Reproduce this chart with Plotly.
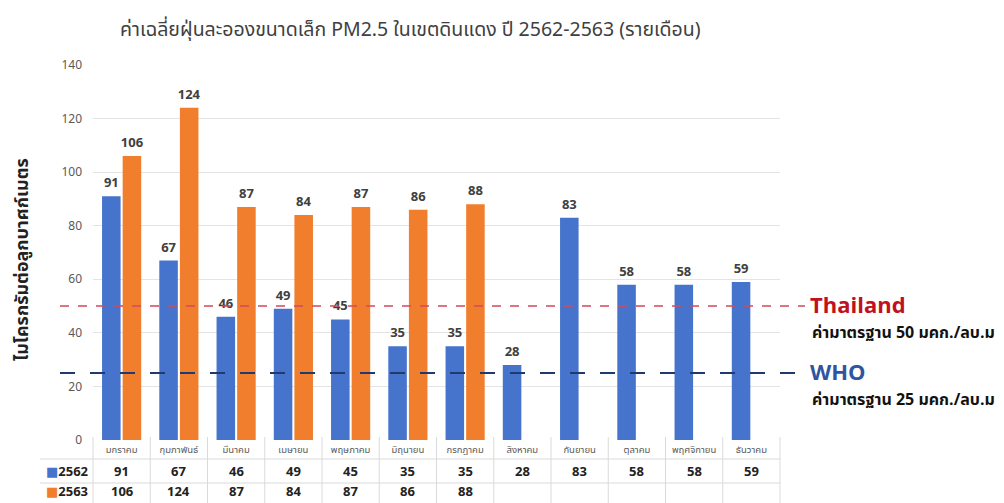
import plotly.graph_objects as go

# Monthly PM2.5 averages (µg/m³), Din Daeng district
months = ["มกราคม", "กุมภาพันธ์", "มีนาคม", "เมษายน", "พฤษภาคม", "มิถุนายน",
          "กรกฎาคม", "สิงหาคม", "กันยายน", "ตุลาคม", "พฤศจิกายน", "ธันวาคม"]
pm_2562 = [91, 67, 46, 49, 45, 35, 35, 28, 83, 58, 58, 59]
pm_2563 = [106, 124, 87, 84, 87, 86, 88, None, None, None, None, None]
series_names = ["2562", "2563"]
y_ticks = [0, 20, 40, 60, 80, 100, 120, 140]

# Standards (µg/m³)
thai_standard = 50
who_standard = 25

W, H = 1004, 503
BLUE = "#4674CC"
ORANGE = "#F07E2C"
FONT = "Tahoma, 'Noto Sans Thai', 'Noto Sans', 'DejaVu Sans', sans-serif"

# plot box in pixels
PX0, PX1 = 93, 780
PY_TOP, PY_BOT = 65, 440


def px(x):
    return x / W


def py(y):
    return 1 - y / H


fig = go.Figure()
for name, vals, col in [(series_names[0], pm_2562, BLUE), (series_names[1], pm_2563, ORANGE)]:
    fig.add_trace(go.Bar(
        x=list(range(len(months))), y=vals, name=name,
        marker=dict(color=col, line=dict(width=0)),
        texttemplate="<b>%{y}</b>", textposition="outside", constraintext="none",
        textfont=dict(size=13, color="#404040", family=FONT),
        cliponaxis=False,
    ))

shapes = []
annotations = []

# standard lines
shapes.append(dict(type="line", xref="paper", yref="y", x0=px(60), x1=px(805),
                   y0=thai_standard, y1=thai_standard,
                   line=dict(color="#D44A5A", width=1.5, dash="dash")))
shapes.append(dict(type="line", xref="paper", yref="y", x0=px(60), x1=px(800),
                   y0=who_standard, y1=who_standard,
                   line=dict(color="#1F3A6E", width=2, dash="longdash")))

annotations += [
    dict(text="<b>Thailand</b>", xref="paper", yref="y", x=px(808), y=thai_standard,
         xanchor="left", yanchor="middle", showarrow=False,
         font=dict(size=22, color="#C0111F", family=FONT)),
    dict(text="<b>ค่ามาตรฐาน 50 มคก./ลบ.ม</b>", xref="paper", yref="y", x=px(810),
         y=thai_standard, yshift=-27, xanchor="left", yanchor="middle", showarrow=False,
         font=dict(size=16, color="#111111", family=FONT)),
    dict(text="<b>WHO</b>", xref="paper", yref="y", x=px(808), y=who_standard,
         xanchor="left", yanchor="middle", showarrow=False,
         font=dict(size=22, color="#2F55A0", family=FONT)),
    dict(text="<b>ค่ามาตรฐาน 25 มคก./ลบ.ม</b>", xref="paper", yref="y", x=px(810),
         y=who_standard, yshift=-27, xanchor="left", yanchor="middle", showarrow=False,
         font=dict(size=16, color="#111111", family=FONT)),
]

# title and y-axis title
annotations.append(dict(text="ค่าเฉลี่ยฝุ่นละอองขนาดเล็ก PM2.5 ในเขตดินแดง ปี 2562-2563 (รายเดือน)",
                        xref="paper", yref="paper", x=px(410), y=py(30),
                        xanchor="center", yanchor="middle", showarrow=False,
                        font=dict(size=19.5, color="#404040", family=FONT)))
annotations.append(dict(text="<b>ไมโครกรัมต่อลูกบาศก์เมตร</b>", xref="paper", yref="paper",
                        x=px(22), y=py(260), textangle=-90,
                        xanchor="center", yanchor="middle", showarrow=False,
                        font=dict(size=18, color="#222222", family=FONT)))

# data table under the axis
col_w = (PX1 - PX0) / len(months)
row_lines = [437, 459, 483, 503]
for k in range(len(months) + 1):
    xk = PX0 + col_w * k
    shapes.append(dict(type="line", xref="paper", yref="paper", x0=px(xk), x1=px(xk),
                       y0=py(437), y1=py(503), line=dict(color="#DADADA", width=1)))
for yy in row_lines[1:3]:
    shapes.append(dict(type="line", xref="paper", yref="paper", x0=px(40), x1=px(PX1),
                       y0=py(yy), y1=py(yy), line=dict(color="#DADADA", width=1)))

row_y = [472, 492]
for vals, col, name, yy in [(pm_2562, BLUE, series_names[0], row_y[0]),
                            (pm_2563, ORANGE, series_names[1], row_y[1])]:
    annotations.append(dict(
        text=f'<span style="color:{col}">■</span><b>{name}</b>',
        xref="paper", yref="paper", x=px(44), y=py(yy), xanchor="left", yanchor="middle",
        showarrow=False, font=dict(size=13, color="#222222", family=FONT)))
    for i, v in enumerate(vals):
        if v is None:
            continue
        annotations.append(dict(text=f"<b>{v}</b>", xref="x", yref="paper", x=i, y=py(yy),
                                xanchor="center", yanchor="middle", showarrow=False,
                                font=dict(size=13, color="#222222", family=FONT)))

fig.update_layout(
    width=W, height=H, autosize=False,
    margin=dict(l=0, r=0, t=0, b=0),
    paper_bgcolor="white", plot_bgcolor="white",
    showlegend=False,
    barmode="group", bargap=0.28, bargroupgap=0.1,
    shapes=shapes, annotations=annotations,
    xaxis=dict(domain=[px(PX0), px(PX1)], range=[-0.5, len(months) - 0.5],
               tickmode="array", tickvals=list(range(len(months))), ticktext=months,
               tickfont=dict(size=9.5, color="#595959", family=FONT), automargin=False,
               showline=False, showgrid=False, zeroline=False, ticks="", ticklabelstandoff=2),
    yaxis=dict(domain=[py(PY_BOT), py(PY_TOP)], range=[0, 140], automargin=False,
               tickvals=y_ticks, tickfont=dict(size=12, color="#595959", family=FONT),
               showgrid=True, gridcolor="#E4E4E4", gridwidth=1,
               zeroline=False, showline=False, ticks="", ticklabelstandoff=10),
    font=dict(family=FONT),
)

fig.write_html("out.html")
